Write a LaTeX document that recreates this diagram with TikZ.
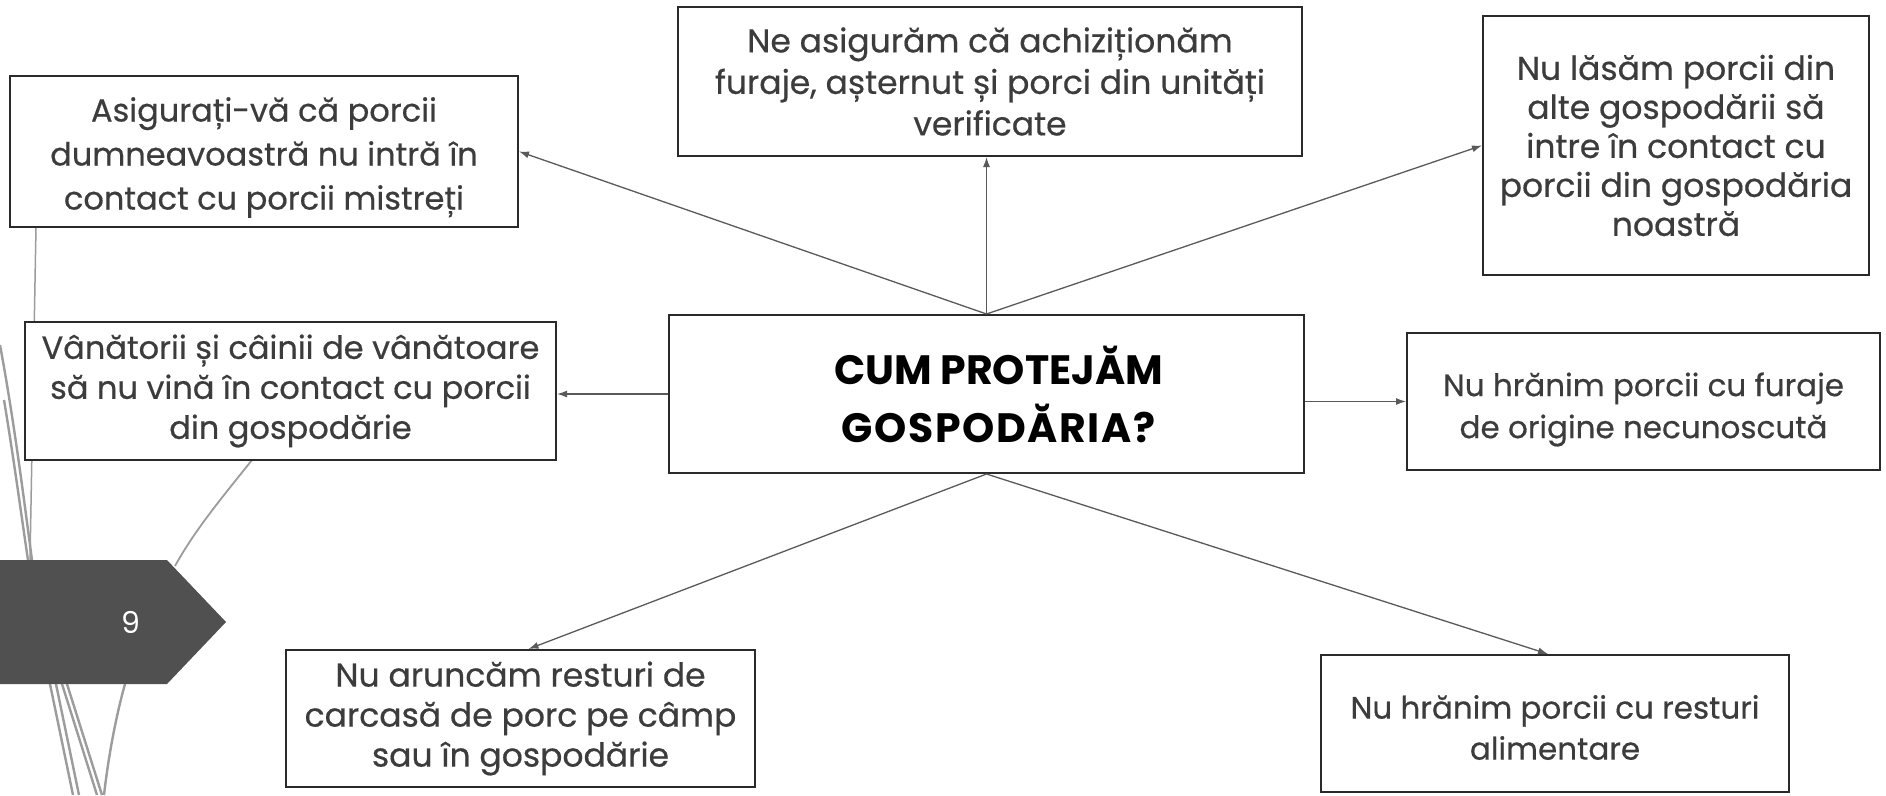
\documentclass[tikz,border=0pt]{standalone}
\usepackage{fontspec}
\setmainfont{Poppins}
\newfontfamily\boxfont{Poppins}[FakeBold=0.5]
\usetikzlibrary{arrows.meta}
\definecolor{boxline}{HTML}{2A2A2A}
\definecolor{boxtext}{HTML}{3C3C3C}
\definecolor{arrowgray}{HTML}{5A5A5A}
\definecolor{decogray}{HTML}{9C9C9C}
\definecolor{pentfill}{HTML}{505050}
\tikzset{
  infobox/.style={draw=boxline, line width=2pt, fill=white, align=center, text=boxtext, inner sep=4pt},
  boxtextonly/.style={align=center, text=boxtext, inner sep=0pt},
  hubbox/.style={draw=boxline, line width=2pt, fill=white, align=center, text=black, inner sep=4pt},
  conn/.style={draw=arrowgray, line width=1.3pt, -{Latex[length=10pt,width=7pt]}},
  deco/.style={draw=decogray, line width=2.4pt},
}
\begin{document}
\begin{tikzpicture}[x=1pt,y=-1pt]
\useasboundingbox (0,0) rectangle (1886,795);
\fill[white] (0,0) rectangle (1886,795);

% decorative theme lines (left)
\draw[deco, line width=1.5pt] (36,227) -- (30,560);
\draw[deco] (0,345) .. controls (14,420) and (24,500) .. (32,560);
\draw[deco] (4,400) .. controls (14,460) and (22,520) .. (28,560);
\draw[deco] (50,684) -- (73,795);
\draw[deco] (56,684) -- (79,795);
\draw[deco] (62,684) -- (97,795);
\draw[deco] (67,684) -- (102,795);
\draw[deco] (125,684) .. controls (115,720) and (108,760) .. (104,795);
\draw[deco, line width=1.8pt] (252,460) .. controls (220,500) and (195,530) .. (175,566);

% slide number tag
\fill[pentfill] (0,560) -- (167,560) -- (226,622) -- (167,684) -- (0,684) -- cycle;
\node[text=white, font=\fontsize{30}{36}\selectfont] (pagenum) at (131,622) {9};

% central box
\node[hubbox, minimum width=635pt, minimum height=158pt] (hub) at (986.5,394) {};
\node[boxtextonly, text=black, font=\fontsize{41}{58}\selectfont\bfseries] (hubtext) at ([xshift=12pt]hub.center)
  {CUM PROTEJĂM\\{\addfontfeature{LetterSpace=4}GOSPODĂRIA?}};

% outer boxes
\node[infobox, minimum width=508pt, minimum height=151pt] (A) at (264,151.5) {};
\node[boxtextonly, font=\boxfont\fontsize{32}{44}\selectfont] (Atext) at ([yshift=-6pt]A.center)
  {Asigurați-vă că porcii\\dumneavoastră nu intră în\\contact cu porcii mistreți};
\node[infobox, minimum width=624pt, minimum height=149pt, font=\boxfont\fontsize{33}{41.5}\selectfont] (B) at (990,81.5)
  {Ne asigurăm că achiziționăm\\furaje, așternut și porci din unități\\verificate};
\node[infobox, minimum width=386pt, minimum height=259pt, font=\boxfont\fontsize{33}{39}\selectfont] (C) at (1676,145.5)
  {Nu lăsăm porcii din\\alte gospodării să\\intre în contact cu\\porcii din gospodăria\\noastră};
\node[infobox, minimum width=531pt, minimum height=138pt, font=\boxfont\fontsize{32}{40}\selectfont] (D) at (290.5,391)
  {Vânătorii și câinii de vânătoare\\să nu vină în contact cu porcii\\din gospodărie};
\node[infobox, minimum width=473pt, minimum height=137pt] (E) at (1643.5,401.5) {};
\node[boxtextonly, font=\boxfont\fontsize{31}{42}\selectfont] (Etext) at ([yshift=-8pt]E.center)
  {Nu hrănim porcii cu furaje\\de origine necunoscută};
\node[infobox, minimum width=469pt, minimum height=137pt, font=\boxfont\fontsize{33}{40}\selectfont] (F) at (520.5,718.5)
  {Nu aruncăm resturi de\\carcasă de porc pe câmp\\sau în gospodărie};
\node[infobox, minimum width=468pt, minimum height=137pt] (G) at (1555,723.5) {};
\node[boxtextonly, font=\boxfont\fontsize{31}{41}\selectfont] (Gtext) at ([yshift=-4pt]G.center)
  {Nu hrănim porcii cu resturi\\alimentare};

% connectors
\draw[conn] (hub.north) -- (A.east);
\draw[conn] (hub.north) -- (hub.north |- B.south);
\draw[conn] (hub.north) -- (C.west);
\draw[conn] (hub.west) -- (hub.west -| D.east);
\draw[conn] (E.west -| hub.east) -- (E.west);
\draw[conn] (hub.south) -- ([xshift=8pt]F.north);
\draw[conn] (hub.south) -- ([xshift=-7pt]G.north);
\end{tikzpicture}
\end{document}
